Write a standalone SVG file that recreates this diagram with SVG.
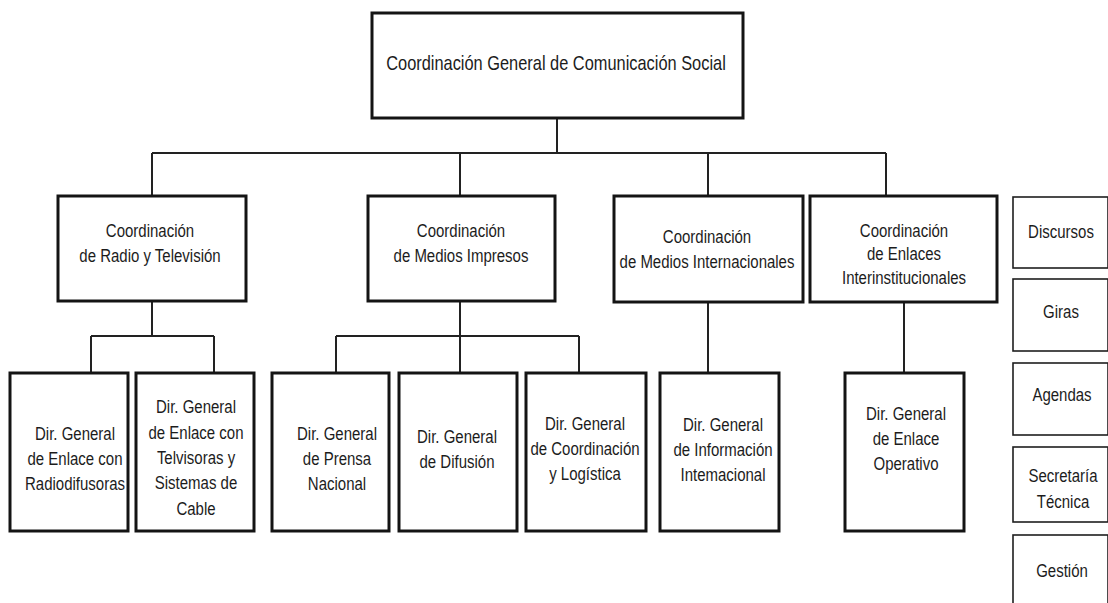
<svg xmlns="http://www.w3.org/2000/svg" width="1108" height="603" viewBox="0 0 1108 603">
  <style>
    .box { fill: #ffffff; stroke: #141414; stroke-width: 3; }
    .side { fill: #ffffff; stroke: #1e1e1e; stroke-width: 1.6; }
    .conn { fill: none; stroke: #222222; stroke-width: 2; }
    .t { font-family: "Liberation Sans", Arial, sans-serif; font-size: 18.5px; fill: #1c1c1c; text-anchor: middle; }
    .tt { font-size: 20px; }
  </style>
  <rect width="1108" height="603" fill="#ffffff"/>

  <!-- connectors -->
  <g id="connectors">
    <path class="conn" d="M557 118 V153 M152 153 H886 M152 153 V196 M460 153 V196 M708 153 V196 M886 153 V196"/>
    <path class="conn" d="M152 301 V336 M91 336 H214 M91 336 V373 M214 336 V373"/>
    <path class="conn" d="M460 301 V373 M336 336 H579 M336 336 V373 M579 336 V373"/>
    <path class="conn" d="M708 302 V373"/>
    <path class="conn" d="M904 302 V373"/>
  </g>

  <!-- top level -->
  <g id="coord-general">
    <rect class="box" x="372" y="13" width="371" height="105"/>
    <text class="t tt" transform="translate(556 0) scale(0.82 1)"><tspan x="0" y="70">Coordinación General de Comunicación Social</tspan></text>
  </g>

  <!-- coordinations -->
  <g id="coord-radio-tv">
    <rect class="box" x="58" y="196" width="188" height="105"/>
    <text class="t" transform="translate(150 0) scale(0.81 1)"><tspan x="0" y="237">Coordinación</tspan><tspan x="0" y="262">de Radio y Televisión</tspan></text>
  </g>
  <g id="coord-medios-impresos">
    <rect class="box" x="368" y="196" width="187" height="105"/>
    <text class="t" transform="translate(461 0) scale(0.81 1)"><tspan x="0" y="237">Coordinación</tspan><tspan x="0" y="262">de Medios Impresos</tspan></text>
  </g>
  <g id="coord-medios-internacionales">
    <rect class="box" x="614" y="196" width="189" height="106"/>
    <text class="t" transform="translate(707 0) scale(0.81 1)"><tspan x="0" y="243">Coordinación</tspan><tspan x="0" y="268">de Medios Internacionales</tspan></text>
  </g>
  <g id="coord-enlaces">
    <rect class="box" x="810" y="196" width="187" height="106"/>
    <text class="t" transform="translate(904 0) scale(0.81 1)"><tspan x="0" y="237">Coordinación</tspan><tspan x="0" y="260">de Enlaces</tspan><tspan x="0" y="284">Interinstitucionales</tspan></text>
  </g>

  <!-- general directorates -->
  <g id="dg-radiodifusoras">
    <rect class="box" x="10" y="373" width="118" height="158"/>
    <text class="t" transform="translate(75 0) scale(0.81 1)"><tspan x="0" y="440">Dir. General</tspan><tspan x="0" y="465">de Enlace con</tspan><tspan x="0" y="490">Radiodifusoras</tspan></text>
  </g>
  <g id="dg-televisoras">
    <rect class="box" x="136" y="373" width="118" height="158"/>
    <text class="t" transform="translate(196 0) scale(0.81 1)"><tspan x="0" y="413">Dir. General</tspan><tspan x="0" y="439">de Enlace con</tspan><tspan x="0" y="464">Telvisoras y</tspan><tspan x="0" y="489">Sistemas de</tspan><tspan x="0" y="515">Cable</tspan></text>
  </g>
  <g id="dg-prensa">
    <rect class="box" x="272" y="373" width="117" height="158"/>
    <text class="t" transform="translate(337 0) scale(0.81 1)"><tspan x="0" y="440">Dir. General</tspan><tspan x="0" y="465">de Prensa</tspan><tspan x="0" y="490">Nacional</tspan></text>
  </g>
  <g id="dg-difusion">
    <rect class="box" x="399" y="373" width="118" height="158"/>
    <text class="t" transform="translate(457 0) scale(0.81 1)"><tspan x="0" y="443">Dir. General</tspan><tspan x="0" y="468">de Difusión</tspan></text>
  </g>
  <g id="dg-logistica">
    <rect class="box" x="526" y="373" width="120" height="158"/>
    <text class="t" transform="translate(585 0) scale(0.81 1)"><tspan x="0" y="430">Dir. General</tspan><tspan x="0" y="455">de Coordinación</tspan><tspan x="0" y="480">y Logística</tspan></text>
  </g>
  <g id="dg-informacion">
    <rect class="box" x="660" y="373" width="119" height="158"/>
    <text class="t" transform="translate(723 0) scale(0.81 1)"><tspan x="0" y="431">Dir. General</tspan><tspan x="0" y="456">de Información</tspan><tspan x="0" y="481">Intemacional</tspan></text>
  </g>
  <g id="dg-enlace-operativo">
    <rect class="box" x="845" y="373" width="119" height="158"/>
    <text class="t" transform="translate(906 0) scale(0.81 1)"><tspan x="0" y="420">Dir. General</tspan><tspan x="0" y="445">de Enlace</tspan><tspan x="0" y="470">Operativo</tspan></text>
  </g>

  <!-- support units -->
  <g id="discursos">
    <rect class="side" x="1013" y="197" width="95" height="71"/>
    <text class="t" transform="translate(1061 0) scale(0.81 1)"><tspan x="0" y="238">Discursos</tspan></text>
  </g>
  <g id="giras">
    <rect class="side" x="1013" y="279" width="95" height="72"/>
    <text class="t" transform="translate(1061 0) scale(0.81 1)"><tspan x="0" y="318">Giras</tspan></text>
  </g>
  <g id="agendas">
    <rect class="side" x="1013" y="363" width="95" height="72"/>
    <text class="t" transform="translate(1062 0) scale(0.81 1)"><tspan x="0" y="401">Agendas</tspan></text>
  </g>
  <g id="secretaria-tecnica">
    <rect class="side" x="1013" y="447" width="95" height="75"/>
    <text class="t" transform="translate(1063 0) scale(0.81 1)"><tspan x="0" y="482">Secretaría</tspan><tspan x="0" y="508">Técnica</tspan></text>
  </g>
  <g id="gestion">
    <rect class="side" x="1013" y="535" width="95" height="80"/>
    <text class="t" transform="translate(1062 0) scale(0.81 1)"><tspan x="0" y="577">Gestión</tspan></text>
  </g>
</svg>
